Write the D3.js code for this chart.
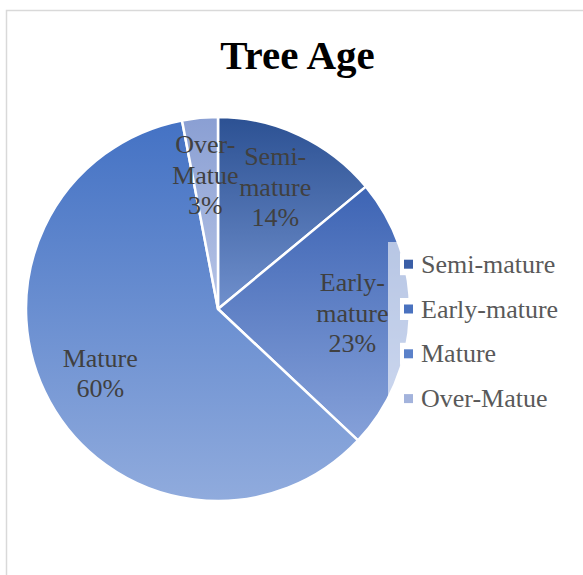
<!DOCTYPE html>
<html><head><meta charset="utf-8">
<script src="https://cdn.jsdelivr.net/npm/d3@7/dist/d3.min.js"></script>
<style>html,body{margin:0;padding:0;background:#fff;overflow:hidden}</style>
</head><body>
<svg id="c" width="583" height="575"></svg>
<script>
const categories = ["Semi-mature", "Early-mature", "Mature", "Over-Matue"];
const values = [14, 23, 60, 3];
const labelLines = [["Semi-", "mature", "14%"], ["Early-", "mature", "23%"], ["Mature", "60%"], ["Over-", "Matue", "3%"]];
const gradTop = ["#2c5193", "#3d64b4", "#4472c4", "#8a9fd3"];
const gradBot = ["#7090cd", "#86a1d9", "#90abdd", "#b6c4e6"];
const legendColors = ["#3a5ea6", "#4a72bf", "#5b81c9", "#a3b3dc"];

const svg = d3.select("#c");
const cx = 218, cy = 309, R = 192;
const serif = "'Liberation Serif','Times New Roman',serif";

svg.append("rect").attr("x", 6.5).attr("y", 10.5).attr("width", 620).attr("height", 620)
  .attr("fill", "#fff").attr("stroke", "#d9d9d9").attr("stroke-width", 1.5);

svg.append("text").attr("x", 297.5).attr("y", 69).attr("text-anchor", "middle")
  .attr("font-family", serif).attr("font-weight", "bold").attr("font-size", 41)
  .attr("fill", "#000").text("Tree Age");

const defs = svg.append("defs");
categories.forEach((c, i) => {
  const g = defs.append("linearGradient").attr("id", "g" + i)
    .attr("x1", 0).attr("y1", 0).attr("x2", 0).attr("y2", 1);
  g.append("stop").attr("offset", "0%").attr("stop-color", gradTop[i]);
  g.append("stop").attr("offset", "100%").attr("stop-color", gradBot[i]);
});

const pie = d3.pie().value(d => d).sort(null);
const arcs = pie(values);
const arc = d3.arc().innerRadius(0).outerRadius(R);
const labelArc = d3.arc().innerRadius(R * 0.7).outerRadius(R * 0.7);

const g = svg.append("g").attr("transform", `translate(${cx},${cy})`);
g.selectAll("path.slice").data(arcs).enter().append("path")
  .attr("class", "slice")
  .attr("d", arc)
  .attr("fill", (d, i) => `url(#g${i})`)
  .attr("stroke", "#fff").attr("stroke-width", 2.5).attr("stroke-linejoin", "round");

const fs = 26, lh = 30.5;
arcs.forEach((d, i) => {
  const [x, y] = labelArc.centroid(d);
  const lines = labelLines[i];
  const t = g.append("text").attr("text-anchor", "middle")
    .attr("font-family", serif).attr("font-size", fs).attr("fill", "#404040");
  lines.forEach((ln, k) => {
    t.append("tspan").attr("x", x)
      .attr("y", y + (k - (lines.length - 1) / 2) * lh + 8.5)
      .text(ln);
  });
});

// legend
svg.append("rect").attr("x", 388).attr("y", 242).attr("width", 200).attr("height", 185)
  .attr("fill", "#fff").attr("fill-opacity", 0.6);
const lg = svg.append("g");
categories.forEach((c, i) => {
  const by = 272.7 + i * 44.8;
  lg.append("rect").attr("x", 400).attr("y", by - 19.5).attr("width", 20).attr("height", 22).attr("fill", "#fff");
  lg.append("rect").attr("x", 404).attr("y", by - 13).attr("width", 9).attr("height", 9).attr("fill", legendColors[i]);
  lg.append("text").attr("x", 421).attr("y", by).attr("font-family", serif).attr("font-size", fs)
    .attr("fill", "#595959").text(c);
});
</script>
</body></html>
